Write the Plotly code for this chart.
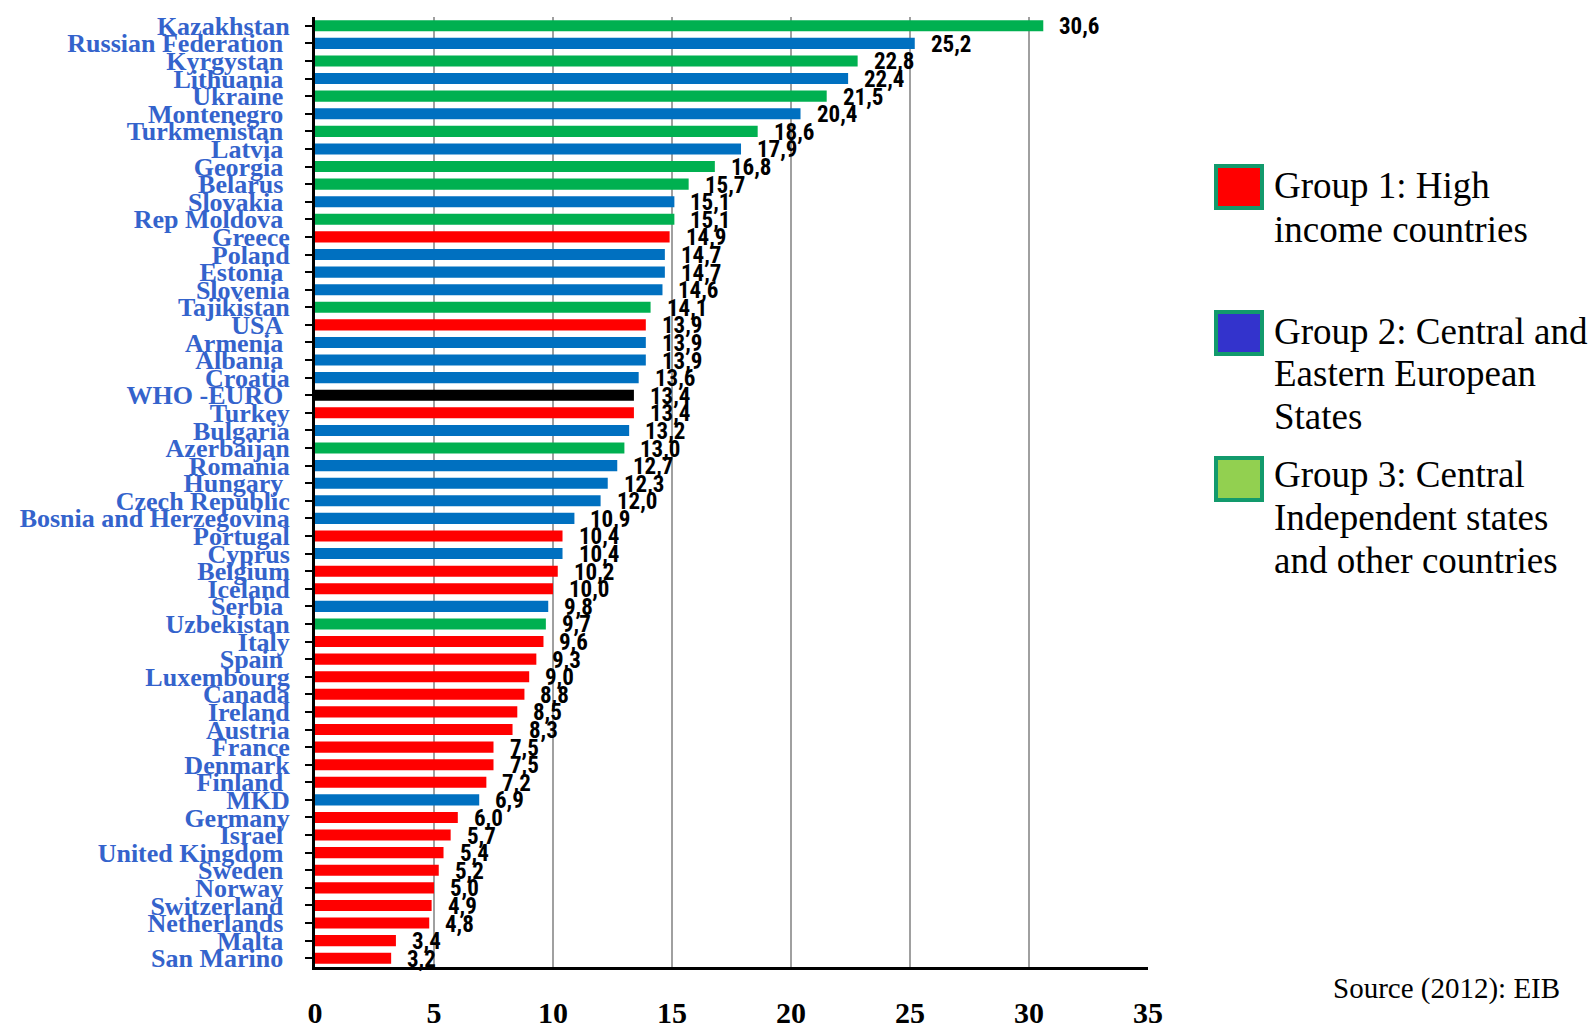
import plotly.graph_objects as go

# Countries from top to bottom, their values and group membership
countries = [
    "Kazakhstan", "Russian Federation", "Kyrgystan", "Lithuania", "Ukraine",
    "Montenegro", "Turkmenistan", "Latvia", "Georgia", "Belarus", "Slovakia",
    "Rep Moldova", "Greece", "Poland", "Estonia", "Slovenia", "Tajikistan",
    "USA", "Armenia", "Albania", "Croatia", "WHO -EURO", "Turkey", "Bulgaria",
    "Azerbaijan", "Romania", "Hungary", "Czech Republic",
    "Bosnia and Herzegovina", "Portugal", "Cyprus", "Belgium", "Iceland",
    "Serbia", "Uzbekistan", "Italy", "Spain", "Luxembourg", "Canada",
    "Ireland", "Austria", "France", "Denmark", "Finland", "MKD", "Germany",
    "Israel", "United Kingdom", "Sweden", "Norway", "Switzerland",
    "Netherlands", "Malta", "San Marino",
]
values = [
    30.6, 25.2, 22.8, 22.4, 21.5, 20.4, 18.6, 17.9, 16.8, 15.7, 15.1, 15.1,
    14.9, 14.7, 14.7, 14.6, 14.1, 13.9, 13.9, 13.9, 13.6, 13.4, 13.4, 13.2,
    13.0, 12.7, 12.3, 12.0, 10.9, 10.4, 10.4, 10.2, 10.0, 9.8, 9.7, 9.6, 9.3,
    9.0, 8.8, 8.5, 8.3, 7.5, 7.5, 7.2, 6.9, 6.0, 5.7, 5.4, 5.2, 5.0, 4.9,
    4.8, 3.4, 3.2,
]
groups = [
    3, 2, 3, 2, 3, 2, 3, 2, 3, 3, 2, 3, 1, 2, 2, 2, 3, 1, 2, 2, 2, 0, 1, 2,
    3, 2, 2, 2, 2, 1, 2, 1, 1, 2, 3, 1, 1, 1, 1, 1, 1, 1, 1, 1, 2, 1, 1, 1,
    1, 1, 1, 1, 1, 1,
]
# Names whose label carries a trailing space
spaced = {
    "Russian Federation", "Kyrgystan", "Lithuania", "Ukraine", "Montenegro",
    "Turkmenistan", "Latvia", "Georgia", "Belarus", "Slovakia", "Rep Moldova",
    "Estonia", "USA", "Armenia", "Albania", "WHO -EURO", "Hungary", "Serbia",
    "Spain", "Finland", "Israel", "United Kingdom", "Sweden", "Norway",
    "Switzerland", "Netherlands", "Malta", "San Marino",
}
x_ticks = [0, 5, 10, 15, 20, 25, 30, 35]

legend_labels = [
    ["Group 1: High", "income countries"],
    ["Group 2: Central and", "Eastern European", "States"],
    ["Group 3: Central", "Independent states", "and other countries"],
]
legend_fills = ["#FF0000", "#3333CC", "#92D050"]
source_note = "Source (2012): EIB"

bar_colors = {0: "#000000", 1: "#FF0000", 2: "#0070C0", 3: "#00B050"}
tick_text = [c + "\u00a0" if c in spaced else c for c in countries]
value_text = [f"{v:.1f}".replace(".", ",") for v in values]

W, H = 1591, 1028
L, R, T, B = 315, 443, 17, 61
PW, PH = W - L - R, H - T - B
SERIF = "Liberation Serif, Times New Roman, serif"
NARROW = "Roboto Condensed, Liberation Sans Narrow, Arial Narrow, Roboto, DejaVu Sans Condensed, sans-serif"


def px_x(p):
    return (p - L) / PW


def px_y(p):
    return (H - B - p) / PH


fig = go.Figure()
fig.add_trace(go.Bar(
    y=countries,
    x=values,
    orientation="h",
    width=0.63,
    marker=dict(color=[bar_colors[g] for g in groups], line=dict(width=0)),
    showlegend=False,
    hoverinfo="x+y",
))

annotations = []
for c, v, t in zip(countries, values, value_text):
    annotations.append(dict(
        x=v, y=c, xref="x", yref="y", text=f"<b>{t}</b>",
        showarrow=False, xanchor="left", yanchor="middle", xshift=14, yshift=-1,
        font=dict(family=NARROW, size=23, color="#000000"),
    ))

# Legend: framed colour squares with multi-line captions
square_tops = [166, 312, 458]
line_centers = [[186, 229], [331, 373, 416], [475, 517, 560]]
shapes = []
for top, fill, lines, centers in zip(square_tops, legend_fills, legend_labels, line_centers):
    shapes.append(dict(
        type="rect", xref="paper", yref="paper",
        x0=px_x(1216), x1=px_x(1262), y0=px_y(top + 42), y1=px_y(top),
        fillcolor=fill, line=dict(color="#129A6C", width=4), layer="above",
    ))
    for line, cy in zip(lines, centers):
        annotations.append(dict(
            x=px_x(1272), y=px_y(cy), xref="paper", yref="paper",
            text=line, showarrow=False, xanchor="left", yanchor="middle",
            font=dict(family=SERIF, size=37, color="#000000"),
        ))

annotations.append(dict(
    x=px_x(1562), y=px_y(989), xref="paper", yref="paper",
    text=source_note, showarrow=False, xanchor="right", yanchor="middle",
    font=dict(family=SERIF, size=29, color="#000000"),
))

fig.update_layout(
    width=W, height=H,
    margin=dict(l=L, r=R, t=T, b=B, autoexpand=False),
    paper_bgcolor="#FFFFFF", plot_bgcolor="#FFFFFF",
    xaxis=dict(
        range=[0, 35], tickvals=x_ticks, ticks="",
        showgrid=True, gridcolor="#A0A0A0", gridwidth=2,
        showline=True, linecolor="#000000", linewidth=3,
        zeroline=False, ticklabelstandoff=17, automargin=False,
        tickfont=dict(family=SERIF, size=30, color="#000000", weight="bold"),
    ),
    yaxis=dict(
        categoryorder="array", categoryarray=countries,
        tickmode="array", tickvals=countries, ticktext=tick_text,
        range=[len(countries) - 0.5, -0.5],
        showline=True, linecolor="#000000", linewidth=3,
        ticks="outside", ticklen=7, tickwidth=2, tickcolor="#000000",
        showgrid=False, ticklabelstandoff=10, automargin=False,
        tickfont=dict(family=SERIF, size=26, color="#3463CC", weight="bold"),
    ),
    annotations=annotations,
    shapes=shapes,
)

fig.write_html("out.html")
